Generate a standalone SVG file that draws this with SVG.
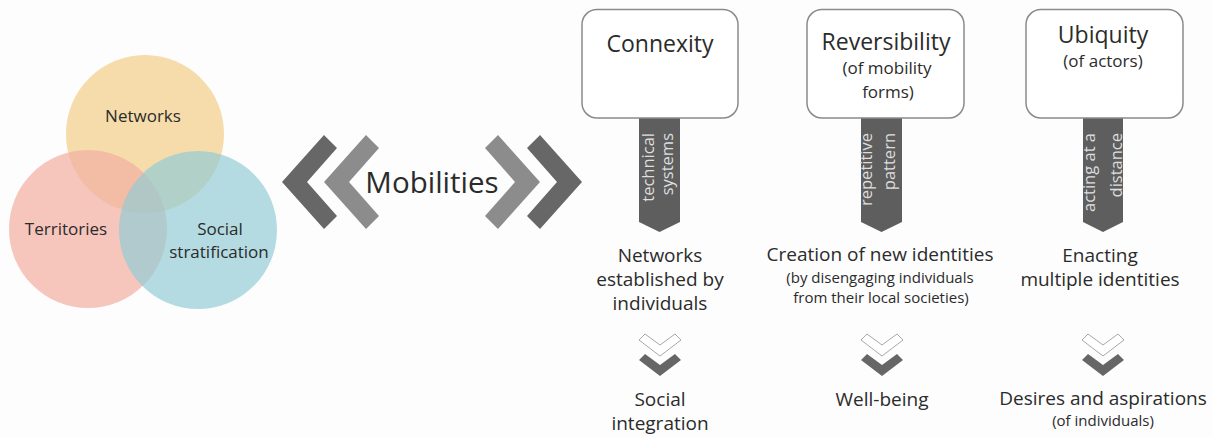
<svg xmlns="http://www.w3.org/2000/svg" width="1213" height="437" viewBox="0 0 1213 437">
<style>
text{font-family:"Open Sans","Noto Sans","DejaVu Sans",sans-serif;fill:#2b2b2b;text-anchor:middle}
.venn{font-size:17px}
.title{font-size:23px}
.sub{font-size:17px}
.main{font-size:19px}
.small{font-size:15px}
.tagtxt{font-size:16.5px;fill:#dedede;text-anchor:end}
.box{fill:#ffffff;stroke:#8a8a8a;stroke-width:1.5}
.tag{fill:#5e5e5e}
.chevD{fill:#676767}
.chevL{fill:#8c8c8c}
.down{fill:#666666}
.downO{fill:#ffffff;stroke:#a8a8a8;stroke-width:1}
</style>
<defs>
<polygon id="dchev" points="-21,6 -15,0 0,11 15,0 21,6 0,22"/>
</defs>
<rect x="0" y="0" width="1213" height="437" fill="#fdfdfd"/>

<g id="venn">
<g id="node-networks">
<circle cx="145" cy="134" r="79" fill="#f2d08e" opacity="0.75"/>
</g>
<g id="node-territories">
<circle cx="88" cy="229" r="79" fill="#f2b0a4" opacity="0.72"/>
</g>
<g id="node-social">
<circle cx="198" cy="230" r="79" fill="#94ccd4" opacity="0.7"/>
</g>
<text class="venn" x="143" y="122">Networks</text>
<text class="venn" x="66" y="235">Territories</text>
<text class="venn" x="220" y="235">Social</text>
<text class="venn" x="219" y="258">stratification</text>
</g>

<g id="node-mobilities">
<polygon class="chevD" points="282,182 324,135 337,148 307,182 337,216 324,229"/>
<polygon class="chevL" points="324,182 366,135 379,148 349,182 379,216 366,229"/>
<polygon class="chevL" points="540,182 498,135 485,148 515,182 485,216 498,229"/>
<polygon class="chevD" points="582,182 540,135 527,148 557,182 527,216 540,229"/>
<text x="432" y="193" font-size="29.5">Mobilities</text>
</g>

<g id="connectors">
<polygon class="tag" points="639,117 680,117 680,222 659.5,232 639,222"/>
<polygon class="tag" points="861,117 902,117 902,222 881.5,232 861,222"/>
<polygon class="tag" points="1083,117 1123,117 1123,222 1103,232 1083,222"/>
<use href="#dchev" x="660" y="334" class="downO"/>
<use href="#dchev" x="660" y="354" class="down"/>
<use href="#dchev" x="882" y="334" class="downO"/>
<use href="#dchev" x="882" y="354" class="down"/>
<use href="#dchev" x="1103" y="334" class="downO"/>
<use href="#dchev" x="1103" y="354" class="down"/>
</g>

<g id="node-connexity">
<rect class="box" x="582" y="9.5" width="156" height="108.5" rx="15"/>
<text class="title" x="660" y="52">Connexity</text>
</g>
<g id="node-reversibility">
<rect class="box" x="807" y="9.5" width="157" height="108.5" rx="15"/>
<text class="title" x="886" y="50">Reversibility</text>
<text class="sub" x="887" y="74">(of mobility</text>
<text class="sub" x="888" y="98">forms)</text>
</g>
<g id="node-ubiquity">
<rect class="box" x="1026" y="9.5" width="157" height="108.5" rx="15"/>
<text class="title" x="1103" y="43">Ubiquity</text>
<text class="sub" x="1103" y="67">(of actors)</text>
</g>

<g id="tag-labels">
<g transform="translate(659.5,133) rotate(-90)">
<text class="tagtxt" x="0" y="-6">technical</text>
<text class="tagtxt" x="0" y="13.5">systems</text>
</g>
<g transform="translate(881.5,133) rotate(-90)">
<text class="tagtxt" x="0" y="-10">repetitive</text>
<text class="tagtxt" x="0" y="13">pattern</text>
</g>
<g transform="translate(1103,133) rotate(-90)">
<text class="tagtxt" x="0" y="-8.5">acting at a</text>
<text class="tagtxt" x="0" y="18.5">distance</text>
</g>
</g>

<g id="node-networks-established">
<text class="main" x="660" y="262">Networks</text>
<text class="main" x="660" y="286">established by</text>
<text class="main" x="660" y="310">individuals</text>
</g>
<g id="node-new-identities">
<text class="main" x="880" y="261">Creation of new identities</text>
<text class="small" x="880" y="283">(by disengaging individuals</text>
<text class="small" x="881" y="303">from their local societies)</text>
</g>
<g id="node-multiple-identities">
<text class="main" x="1100" y="262">Enacting</text>
<text class="main" x="1100" y="286">multiple identities</text>
</g>

<g id="node-social-integration">
<text class="main" x="660" y="406">Social</text>
<text class="main" x="660" y="430">integration</text>
</g>
<g id="node-well-being">
<text class="main" x="882" y="406">Well-being</text>
</g>
<g id="node-desires">
<text class="main" x="1103" y="405">Desires and aspirations</text>
<text class="small" x="1103" y="426">(of individuals)</text>
</g>
</svg>
